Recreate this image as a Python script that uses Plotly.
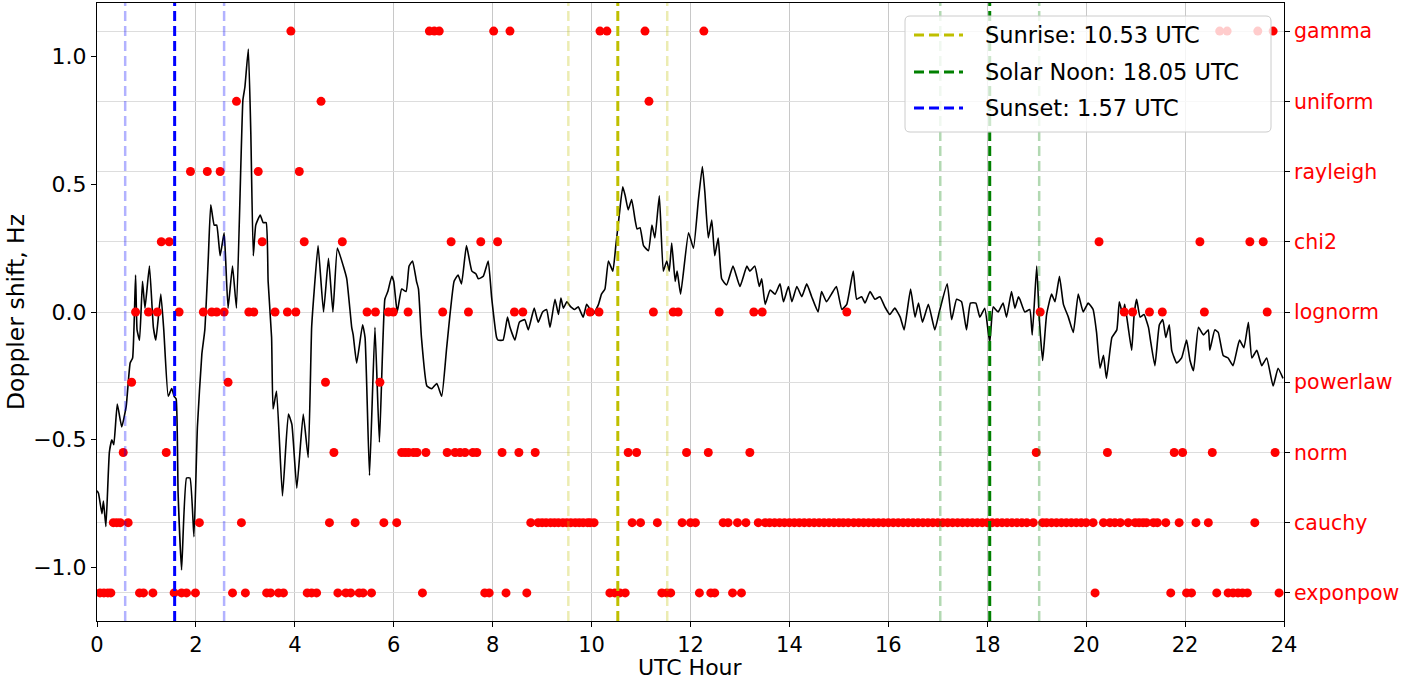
import plotly.graph_objects as go

# ---- Doppler shift trace (UTC hour, Hz) ----
line_hours = [
    0.00, 0.03, 0.10, 0.13, 0.18, 0.25, 0.30, 0.34, 0.41, 0.50, 0.59, 0.67, 0.72, 0.78, 0.81,
    0.86, 0.92, 0.97, 1.06, 1.14, 1.19, 1.29, 1.35, 1.44, 1.51, 1.56, 1.60, 1.64, 1.71, 1.81,
    1.88, 1.96, 2.03, 2.12, 2.18, 2.25, 2.30, 2.37, 2.42, 2.49, 2.57, 2.60, 2.65, 2.74, 2.82,
    2.95, 2.99, 3.06, 3.11, 3.16, 3.21, 3.30, 3.36, 3.42, 3.46, 3.53, 3.56, 3.63, 3.75, 3.87,
    3.94, 4.04, 4.17, 4.27, 4.34, 4.39, 4.47, 4.58, 4.68, 4.77, 4.86, 4.98, 5.05, 5.15, 5.18,
    5.25, 5.37, 5.42, 5.51, 5.62, 5.71, 5.82, 5.88, 5.96, 6.00, 6.07, 6.16, 6.25, 6.31, 6.38,
    6.46, 6.50, 6.56, 6.67, 6.77, 6.87, 6.97, 7.07, 7.22, 7.30, 7.37, 7.47, 7.58, 7.66, 7.71,
    7.81, 7.91, 7.98, 8.08, 8.11, 8.21, 8.30, 8.35, 8.45, 8.54, 8.65, 8.72, 8.84, 8.92, 9.01,
    9.09, 9.16, 9.26, 9.33, 9.38, 9.43, 9.50, 9.58, 9.66, 9.73, 9.83, 9.90, 9.97, 10.03, 10.14,
    10.20, 10.27, 10.34, 10.43, 10.49, 10.56, 10.63, 10.68, 10.74, 10.81, 10.88, 10.92, 10.98, 11.05, 11.15,
    11.22, 11.28, 11.37, 11.45, 11.52, 11.57, 11.62, 11.69, 11.73, 11.80, 11.96, 12.06, 12.16, 12.24, 12.29,
    12.36, 12.43, 12.49, 12.56, 12.63, 12.73, 12.86, 13.00, 13.14, 13.20, 13.30, 13.39, 13.44, 13.51, 13.61,
    13.71, 13.81, 13.88, 13.98, 14.05, 14.15, 14.25, 14.35, 14.45, 14.58, 14.65, 14.75, 14.85, 14.95, 15.06,
    15.16, 15.29, 15.36, 15.46, 15.53, 15.63, 15.73, 15.83, 15.93, 16.03, 16.13, 16.24, 16.32, 16.45, 16.54,
    16.61, 16.69, 16.81, 16.94, 17.03, 17.19, 17.28, 17.38, 17.48, 17.58, 17.66, 17.77, 17.85, 17.95, 18.05,
    18.12, 18.22, 18.32, 18.39, 18.49, 18.56, 18.63, 18.66, 18.76, 18.86, 18.91, 19.00, 19.05, 19.12, 19.20,
    19.30, 19.37, 19.46, 19.54, 19.64, 19.74, 19.84, 19.94, 20.04, 20.14, 20.21, 20.28, 20.35, 20.41, 20.52,
    20.62, 20.67, 20.74, 20.78, 20.85, 20.92, 20.97, 21.02, 21.09, 21.17, 21.26, 21.30, 21.39, 21.48, 21.55,
    21.61, 21.68, 21.73, 21.83, 21.93, 22.03, 22.10, 22.17, 22.27, 22.37, 22.47, 22.50, 22.60, 22.67, 22.77,
    22.87, 22.97, 23.10, 23.19, 23.28, 23.35, 23.45, 23.55, 23.65, 23.78, 23.88, 23.98,
]
doppler_hz = [
    -0.70, -0.71, -0.79, -0.74, -0.84, -0.55, -0.50, -0.52, -0.36, -0.45, -0.37, -0.20, -0.18, 0.145, -0.07,
    -0.11, 0.12, 0.015, 0.18, -0.06, -0.11, 0.07, -0.07, -0.33, -0.30, -0.33, -0.34, -0.71, -1.01, -0.65,
    -0.65, -0.88, -0.45, -0.165, -0.07, 0.21, 0.42, 0.34, 0.34, 0.22, 0.31, 0.21, 0.015, 0.18, 0.015,
    0.83, 0.88, 1.03, 0.70, 0.22, 0.34, 0.38, 0.35, 0.35, 0.12, -0.10, -0.38, -0.31, -0.72, -0.40,
    -0.44, -0.69, -0.40, -0.57, -0.06, 0.08, 0.26, 0.00, 0.21, 0.00, 0.25, 0.18, 0.13, -0.06, -0.09,
    -0.20, -0.05, -0.10, -0.64, -0.06, -0.51, 0.05, 0.08, 0.14, 0.12, 0.00, 0.09, 0.08, 0.18, 0.20,
    0.12, 0.09, -0.10, -0.29, -0.30, -0.28, -0.33, -0.14, 0.12, 0.145, 0.11, 0.26, 0.16, 0.15, 0.13,
    0.14, 0.20, 0.055, -0.10, -0.11, -0.11, -0.02, -0.06, -0.11, -0.04, -0.03, -0.07, 0.015, -0.04, 0.00,
    0.01, -0.06, 0.05, -0.01, 0.055, 0.015, 0.04, 0.02, 0.01, 0.02, -0.02, 0.03, 0.01, -0.01, 0.03,
    0.07, 0.09, 0.20, 0.16, 0.26, 0.38, 0.49, 0.455, 0.40, 0.44, 0.36, 0.325, 0.33, 0.26, 0.24,
    0.34, 0.29, 0.455, 0.16, 0.20, 0.16, 0.27, 0.12, 0.16, 0.07, 0.31, 0.25, 0.44, 0.57, 0.47,
    0.29, 0.36, 0.22, 0.29, 0.13, 0.106, 0.18, 0.10, 0.18, 0.16, 0.18, 0.10, 0.13, 0.03, 0.086,
    0.07, 0.11, 0.04, 0.10, 0.04, 0.10, 0.06, 0.11, 0.06, 0.00, 0.08, 0.04, 0.07, 0.10, 0.01,
    0.03, 0.16, 0.05, 0.06, 0.035, 0.08, 0.05, 0.06, 0.02, -0.01, 0.015, -0.02, -0.07, 0.09, -0.02,
    0.035, -0.04, 0.03, -0.07, 0.00, 0.11, -0.03, 0.05, 0.04, -0.07, 0.035, 0.035, -0.02, 0.015, -0.12,
    0.02, 0.00, 0.035, -0.02, 0.08, 0.015, 0.06, 0.05, 0.00, 0.01, -0.09, 0.18, -0.02, -0.19, -0.01,
    0.07, 0.04, 0.14, 0.03, -0.02, -0.08, 0.07, 0.00, 0.035, 0.01, -0.08, -0.22, -0.17, -0.26, -0.10,
    -0.07, 0.04, -0.01, 0.03, -0.06, -0.15, -0.01, 0.05, -0.02, -0.01, -0.06, -0.11, -0.21, -0.05, -0.03,
    -0.10, -0.05, -0.15, -0.20, -0.18, -0.11, -0.19, -0.23, -0.06, -0.09, -0.07, -0.15, -0.07, -0.08, -0.17,
    -0.18, -0.21, -0.11, -0.14, -0.04, -0.18, -0.15, -0.21, -0.18, -0.29, -0.22, -0.26,
]

# ---- best-fit distribution per time step (UTC hour of each detection) ----
categories = ["exponpow", "cauchy", "norm", "powerlaw", "lognorm", "chi2", "rayleigh", "uniform", "gamma"]

exponpow_hours = [0.06, 0.14, 0.22, 0.28, 0.86, 0.94, 1.13, 1.56, 1.71, 1.81, 1.99, 2.74, 3.00, 3.43,
                  3.51, 3.67, 3.77, 4.25, 4.34, 4.44, 4.87, 5.03, 5.13, 5.30, 5.38, 5.55, 6.58, 7.84,
                  7.93, 8.27, 8.69, 10.37, 10.47, 10.57, 10.68, 11.42, 11.52, 11.60, 12.18, 12.41,
                  12.49, 12.85, 13.03, 20.18, 21.71, 22.03, 22.13, 22.64, 22.87, 22.97, 23.07, 23.16,
                  23.26, 23.90]
cauchy_hours = [0.33, 0.40, 0.47, 0.63, 2.07, 2.92, 4.70, 5.22, 5.80, 6.06, 8.77,
                8.92, 9.00, 9.08, 9.17, 9.25, 9.33, 9.42, 9.50, 9.58, 9.67, 9.75, 9.83, 9.92, 9.97,
                10.05, 10.82, 10.99, 11.33, 11.83, 12.00, 12.10, 12.66, 12.76, 12.95, 13.12, 13.37,
                13.51, 13.60, 13.70, 13.80, 13.90, 14.00, 14.10, 14.20, 14.30, 14.40, 14.50, 14.60,
                14.70, 14.80, 14.90, 15.00, 15.09,
                15.19, 15.30, 15.40, 15.50, 15.60, 15.70, 15.80, 15.90, 16.00, 16.10, 16.20, 16.30,
                16.40, 16.50, 16.60, 16.70, 16.80, 16.90, 17.00, 17.10, 17.20, 17.30, 17.40, 17.50,
                17.60, 17.70, 17.80, 17.90, 18.00, 18.10, 18.20, 18.30, 18.40, 18.50, 18.60, 18.70,
                18.80, 18.93,
                19.12, 19.20, 19.30, 19.40, 19.50, 19.60, 19.70, 19.80, 19.90, 20.00, 20.14,
                20.35, 20.48, 20.58, 20.69, 20.85, 20.99, 21.07, 21.15, 21.22, 21.36, 21.44, 21.61,
                21.88, 22.22, 22.47, 23.41]
norm_hours = [0.53, 1.40, 4.79, 6.16, 6.23, 6.30, 6.40, 6.47, 6.65, 7.08, 7.24, 7.34, 7.44, 7.60,
              7.68, 8.19, 8.53, 8.86, 10.74, 10.91, 11.92, 12.36, 13.20, 18.99, 20.43, 21.78,
              21.95, 22.55, 23.82]
powerlaw_hours = [0.70, 2.65, 4.62, 5.72]
lognorm_hours = [0.78, 1.04, 1.22, 1.66, 2.15, 2.32, 2.42, 2.57, 3.07, 3.17, 3.60, 3.85, 4.02, 5.46,
                 5.63, 5.89, 5.99, 6.29, 6.99, 7.51, 8.44, 8.61, 9.97, 10.15, 11.25, 11.65, 11.75,
                 12.58, 13.28, 13.45, 15.16, 19.07, 20.77, 20.94, 21.28, 21.54, 22.39, 23.66]
chi2_hours = [1.30, 1.46, 3.34, 4.19, 4.96, 7.16, 7.76, 8.10, 20.26, 22.30, 23.31, 23.58]
rayleigh_hours = [1.89, 2.23, 2.49, 3.26, 4.09]
uniform_hours = [2.82, 4.53, 11.16]
gamma_hours = [3.92, 6.72, 6.82, 6.92, 8.02, 8.35, 10.17, 10.31, 11.08, 12.27, 22.70, 22.85,
               23.47, 23.78]

hours_by_category = [exponpow_hours, cauchy_hours, norm_hours, powerlaw_hours, lognorm_hours,
                     chi2_hours, rayleigh_hours, uniform_hours, gamma_hours]

# ---- solar events (UTC hour) ----
sunrise = 10.53
solar_noon = 18.05
sunset = 1.57

FONT = "DejaVu Sans"
W, H = 1403, 681
ML, MR, MT, MB = 97, 119, 3, 60
PW, PH = W - ML - MR, H - MT - MB


def px_x(px):
    """Pixel column -> paper x."""
    return (px - ML) / PW


def px_y(py):
    """Pixel row -> paper y."""
    return (H - MB - py) / PH


fig = go.Figure()

fig.add_trace(go.Scatter(
    x=line_hours, y=doppler_hz, mode="lines",
    line=dict(color="black", width=1.6, shape="spline", smoothing=0.4),
    showlegend=False, yaxis="y",
))

fit_x, fit_y = [], []
for idx, hrs in enumerate(hours_by_category):
    fit_x.extend(hrs)
    fit_y.extend([idx] * len(hrs))
fig.add_trace(go.Scatter(
    x=fit_x, y=fit_y, mode="markers", yaxis="y2",
    marker=dict(color="red", size=9, line=dict(width=0)), showlegend=False,
))

Y2_RANGE = [-0.4, 8.4]
DASH = "10px,5px"
events = [
    (sunrise, "#bfbf00", "rgba(191,191,0,0.3)", f"Sunrise: {sunrise:.2f} UTC"),
    (solar_noon, "#008000", "rgba(0,128,0,0.3)", f"Solar Noon: {solar_noon:.2f} UTC"),
    (sunset, "#0000ff", "rgba(0,0,255,0.3)", f"Sunset: {sunset:.2f} UTC"),
]
for t, col, faded, label in events:
    for off in (-1, 1):
        fig.add_trace(go.Scatter(
            x=[t + off, t + off], y=Y2_RANGE, mode="lines", yaxis="y2",
            line=dict(color=faded, width=2.5, dash=DASH),
            showlegend=False, hoverinfo="skip",
        ))
    fig.add_trace(go.Scatter(
        x=[t, t], y=Y2_RANGE, mode="lines", yaxis="y2",
        line=dict(color=col, width=3, dash=DASH),
        name=label, showlegend=False,
    ))

# ---- legend box (semi-transparent, rounded) drawn above the data ----
bx0, bx1, by0, by1 = px_x(905), px_x(1271), px_y(132), px_y(16)
rx, ry = 5 / PW, 5 / PH
box_path = (
    f"M{bx0 + rx},{by0} L{bx1 - rx},{by0} Q{bx1},{by0} {bx1},{by0 + ry} "
    f"L{bx1},{by1 - ry} Q{bx1},{by1} {bx1 - rx},{by1} "
    f"L{bx0 + rx},{by1} Q{bx0},{by1} {bx0},{by1 - ry} "
    f"L{bx0},{by0 + ry} Q{bx0},{by0} {bx0 + rx},{by0} Z"
)
shapes = [dict(type="path", path=box_path, xref="paper", yref="paper", layer="above",
               fillcolor="rgba(255,255,255,0.8)", line=dict(color="#cccccc", width=1))]
annotations = []
row_y = [35, 72, 108]
for (t, col, faded, label), ry_px in zip(events, row_y):
    yy = px_y(ry_px)
    shapes.append(dict(type="line", xref="paper", yref="paper", layer="above",
                       x0=px_x(914), x1=px_x(963), y0=yy, y1=yy,
                       line=dict(color=col, width=3, dash=DASH)))
    annotations.append(dict(text=label, xref="paper", yref="paper", x=px_x(983), y=yy,
                            xanchor="left", yanchor="middle", showarrow=False,
                            font=dict(size=22.5, color="black", family=FONT)))

# axis titles
annotations.append(dict(text="UTC Hour", xref="paper", yref="paper", x=0.5, y=px_y(667),
                        xanchor="center", yanchor="middle", showarrow=False,
                        font=dict(size=22, color="black", family=FONT)))
annotations.append(dict(text="Doppler shift, Hz", xref="paper", yref="paper", x=px_x(16),
                        y=px_y(312), xanchor="center", yanchor="middle", textangle=-90,
                        showarrow=False, font=dict(size=23.5, color="black", family=FONT)))

axis_common = dict(showline=True, linecolor="black", linewidth=1, ticks="outside",
                   ticklen=5, tickcolor="black", automargin=False)

fig.update_layout(
    width=W, height=H,
    margin=dict(l=ML, r=MR, t=MT, b=MB),
    paper_bgcolor="white", plot_bgcolor="white",
    font=dict(family=FONT, size=22, color="black"),
    showlegend=False,
    shapes=shapes, annotations=annotations,
    xaxis=dict(range=[0, 24], tickvals=list(range(0, 25, 2)), showgrid=True,
               gridcolor="#c8c8c8", gridwidth=1, zeroline=False, mirror=True,
               tickfont=dict(size=21, color="black"), **axis_common),
    yaxis=dict(range=[-1.21, 1.21], tickvals=[-1, -0.5, 0, 0.5, 1],
               ticktext=["\u22121.0", "\u22120.5", "0.0", "0.5", "1.0"],
               showgrid=False, zeroline=False,
               tickfont=dict(size=22, color="black"), **axis_common),
    yaxis2=dict(overlaying="y", side="right", range=Y2_RANGE, tickvals=list(range(len(categories))),
                ticktext=categories, showgrid=True, gridcolor="#dddddd", gridwidth=1,
                zeroline=False, showline=True, linecolor="black", linewidth=1, ticks="outside",
                ticklen=5, tickcolor="black", tickfont=dict(size=20.5, color="red"),
                automargin=False),
)

fig.write_html("out.html")
